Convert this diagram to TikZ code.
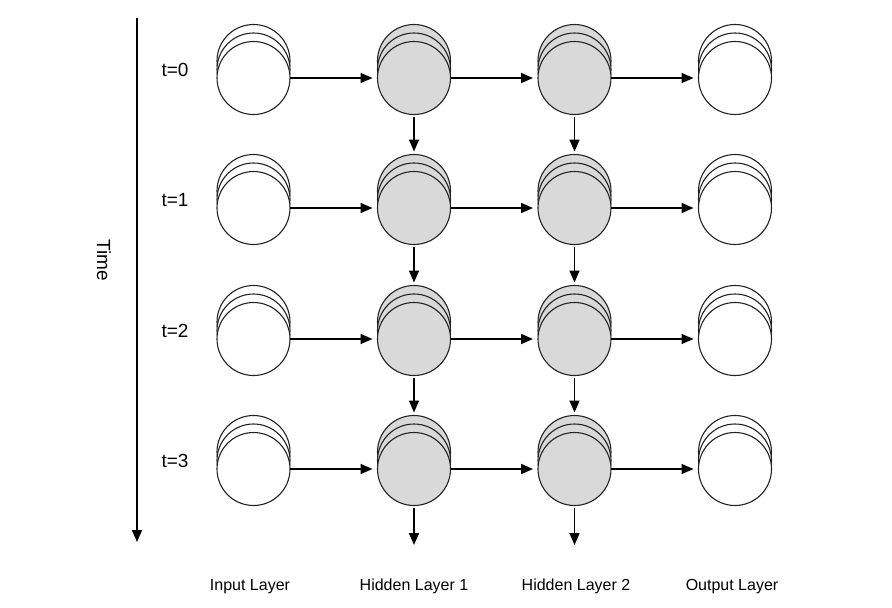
\documentclass[tikz,border=0pt]{standalone}
\usepackage{fontspec}
\setmainfont{Liberation Sans}
\usetikzlibrary{arrows.meta}
\definecolor{hid}{HTML}{D9D9D9}
\definecolor{ln}{HTML}{222222}
\begin{document}
\begin{tikzpicture}[x=1pt,y=-1pt,
  unit/.style={circle,draw=ln,line width=1.1pt,minimum size=73pt,inner sep=0pt,outer sep=0pt},
  arr/.style={draw=black,line width=1.6pt,-{Triangle[length=12pt,width=10pt]}},
  harr/.style={arr,shorten >=5pt},
  varr/.style={arr,shorten <=2.5pt,shorten >=3pt},
  tlab/.style={font=\fontsize{19}{23}\selectfont,inner sep=0pt},
  blab/.style={font=\fontsize{16}{19}\selectfont,inner sep=0pt}]
\path[use as bounding box] (0,0) rectangle (892,608);
% stacks of units
\foreach \c/\x/\f in {0/253.5/white,1/414/hid,2/574.5/hid,3/735/white}{
  \foreach \r/\yy in {0/78,1/208,2/339,3/469}{
    \node[unit,fill=\f] (n\c\r-c) at (\x,\yy-17) {};
    \node[unit,fill=\f] (n\c\r-b) at (\x,\yy-8.5) {};
    \node[unit,fill=\f] (n\c\r) at (\x,\yy) {};
  }
}
% time step labels
\foreach \r/\yy in {0/78,1/208,2/339,3/469}{
  \node[tlab,anchor=base] (t\r) at (175,\yy-1.5) {t=\r};
}
% horizontal connections
\foreach \r in {0,...,3}{
  \foreach \c/\d in {0/1,1/2,2/3}{
    \draw[harr] (n\c\r.east) -- (n\d\r.west);
  }
}
% vertical (recurrent) connections
\foreach \c in {1,2}{
  \foreach \r/\s in {0/1,1/2,2/3}{
    \draw[varr] (n\c\r.south) -- (n\c\s-c.north);
  }
}
\coordinate (e1) at (414,545);
\coordinate (e2) at (574.5,545);
\draw[varr,shorten >=0pt] (n13.south) -- (e1);
\draw[varr,shorten >=0pt] (n23.south) -- (e2);
% time axis
\coordinate (ta) at (137,18);
\coordinate (tb) at (137,542);
\draw[arr] (ta) -- (tb);
\node[tlab,rotate=-90] (time) at (104,260) {Time};
% layer labels
\node[blab,anchor=base] (l0) at (250,590) {Input Layer};
\node[blab,anchor=base] (l1) at (414,590) {Hidden Layer 1};
\node[blab,anchor=base] (l2) at (576,590) {Hidden Layer 2};
\node[blab,anchor=base] (l3) at (732,590) {Output Layer};
\end{tikzpicture}
\end{document}
